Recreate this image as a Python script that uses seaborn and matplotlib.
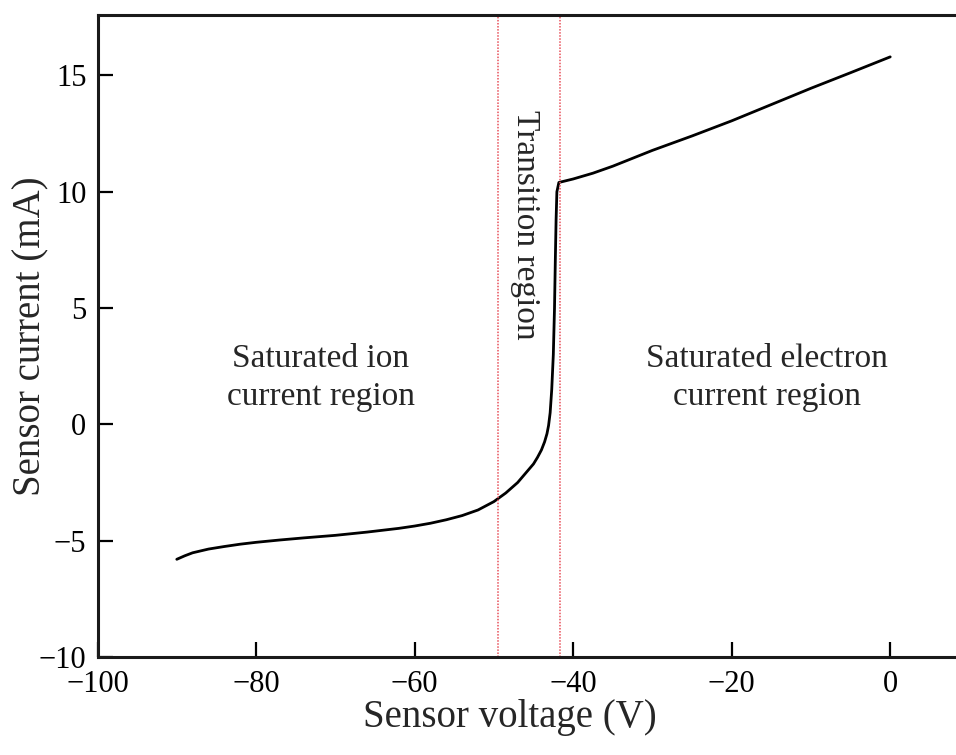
import numpy as np
import pandas as pd
import matplotlib
matplotlib.use("Agg")
import matplotlib.pyplot as plt
import seaborn as sns

voltage = [-90, -89, -88, -86, -84, -82, -80, -77, -74, -70, -66, -62, -60, -58, -56,
           -54, -52, -50, -48.5, -47, -46, -45, -44.5, -44, -43.6, -43.3, -43.1, -42.9,
           -42.7, -42.5, -42.35, -42.25, -42.15, -42.05, -41.8, -40, -37.5, -35, -30,
           -25, -20, -15, -10, -5, 0]
current = [-5.8, -5.65, -5.52, -5.36, -5.25, -5.15, -5.07, -4.97, -4.88, -4.77, -4.63,
           -4.47, -4.37, -4.25, -4.1, -3.92, -3.68, -3.32, -2.95, -2.5, -2.1, -1.7, -1.42,
           -1.1, -0.75, -0.4, -0.05, 0.5, 1.5, 3.0, 5.0, 7.0, 8.8, 10.0, 10.4, 10.55,
           10.8, 11.1, 11.78, 12.4, 13.05, 13.75, 14.45, 15.12, 15.8]
boundaries = [-49.5, -41.7]
xticks = [-100, -80, -60, -40, -20, 0]
yticks = [-10, -5, 0, 5, 10, 15]

sns.set_theme(style="white")
plt.rcParams['font.family'] = ['Liberation Serif', 'DejaVu Serif']
plt.rcParams['axes.unicode_minus'] = True

df = pd.DataFrame({"voltage": voltage, "current": current})

fig = plt.figure(figsize=(9.56, 7.55), dpi=100)
ax = fig.add_axes([97.5 / 956, 98 / 755, 872 / 956, 642 / 755])
sns.lineplot(data=df, x="voltage", y="current", ax=ax, color="black", linewidth=2.0,
             sort=False, estimator=None)
for b in boundaries:
    ax.axvline(b, color="#e8505a", linestyle=(0, (1, 1)), linewidth=1.1)

ax.set_xlim(-100, 10)
ax.set_ylim(-10, 17.6)
ax.set_xticks(xticks)
ax.set_yticks(yticks)
ax.tick_params(direction="in", length=11, width=1.6, labelsize=22,
               colors="black", top=False, right=False, bottom=True, left=True)
ax.tick_params(axis="x", pad=9)
ax.tick_params(axis="y", pad=8)
for s in ax.spines.values():
    s.set_linewidth(2.2)
    s.set_color("#1a1a1a")
ax.set_xlabel("Sensor voltage (V)", fontsize=28)
ax.set_ylabel("Sensor current (mA)", fontsize=28)
ax.xaxis.set_label_coords(0.473, -0.065, transform=ax.transAxes)
ax.xaxis.label.set_va("top")
ax.yaxis.set_label_coords(-0.055, 0.5, transform=ax.transAxes)

ax.text(-71.8, 2.0, "Saturated ion\ncurrent region", ha="center", va="center",
        fontsize=24, linespacing=1.3)
ax.text(-15.5, 2.0, "Saturated electron\ncurrent region", ha="center", va="center",
        fontsize=24, linespacing=1.3)
ax.text(-46.1, 8.6, "Transition region", ha="center", va="center", rotation=-90,
        fontsize=24)

fig.savefig("out.png", dpi=100)
